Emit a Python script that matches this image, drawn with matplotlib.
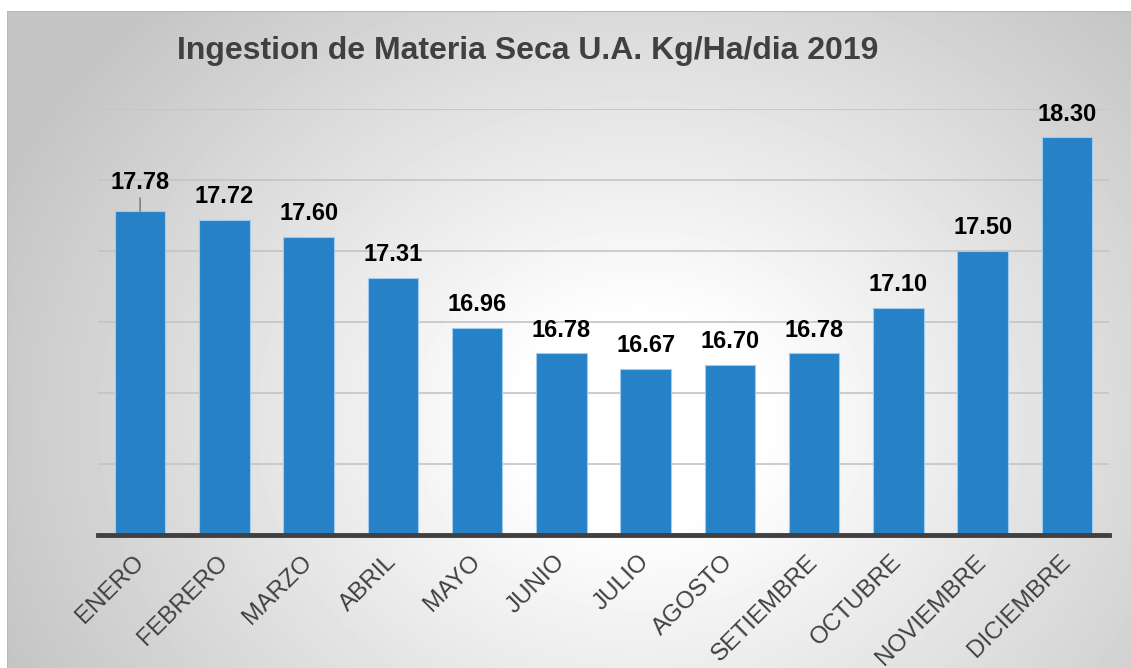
import numpy as np
import matplotlib.pyplot as plt

meses = ['ENERO', 'FEBRERO', 'MARZO', 'ABRIL', 'MAYO', 'JUNIO', 'JULIO',
         'AGOSTO', 'SETIEMBRE', 'OCTUBRE', 'NOVIEMBRE', 'DICIEMBRE']
valores = [17.78, 17.72, 17.60, 17.31, 16.96, 16.78, 16.67, 16.70, 16.78, 17.10, 17.50, 18.30]
titulo = 'Ingestion de Materia Seca U.A. Kg/Ha/dia 2019'

plt.rcParams['font.family'] = ['Liberation Sans', 'DejaVu Sans']

W, H = 1131, 668
fig = plt.figure(figsize=(W / 100, H / 100), dpi=100)
fig.patch.set_facecolor('white')

# fondo con degradado radial
bg = fig.add_axes([7 / W, 0, 1 - 7 / W, (H - 11) / H])
bg.set_axis_off()
yy, xx = np.mgrid[11:H, 7:W]
d = np.sqrt(((xx - 640) / 1.2) ** 2 + (yy - 420) ** 2)
t = np.clip((d - 100) / 480, 0, 1)
g = 1 - 0.23 * t
bg.imshow(g, cmap='gray', vmin=0, vmax=1, aspect='auto', extent=[0, 1, 0, 1])
bg.plot([0, 0, 1], [0, 1, 1], color='#b8b8b8', lw=1.5, transform=bg.transAxes)

ax = fig.add_axes([98 / W, (H - 535) / H, 1011 / W, 426 / H])
ax.patch.set_alpha(0)
x = np.arange(len(meses))
ax.bar(x, valores, width=0.6, color='#2681C7', edgecolor='#9fcbee', linewidth=0.8, zorder=3)
ax.set_ylim(15.5, 18.5)
ax.set_xlim(-0.5, 11.5)
ax.set_yticks(np.arange(16.0, 18.6, 0.5))
ax.yaxis.grid(True, color='#c4c4c4', lw=1.2, zorder=0)
ax.tick_params(axis='y', length=0, labelleft=False)
for s in ['left', 'right', 'top']:
    ax.spines[s].set_visible(False)
ax.spines['bottom'].set_color('#404040')
ax.spines['bottom'].set_linewidth(3.5)
ax.spines['bottom'].set_zorder(4)

ax.set_xticks(x)
ax.set_xticklabels(meses, rotation=45, ha='right', va='center', rotation_mode='anchor',
                   fontsize=17.5, color='#404040')
ax.tick_params(axis='x', length=0, pad=17)

for i, v in enumerate(valores):
    if i == 0:
        ax.annotate(f'{v:.2f}', xy=(i, v), xytext=(0, 16), textcoords='offset points',
                    ha='center', va='baseline', fontsize=17, fontweight='bold',
                    color='black', zorder=5)
        ax.annotate('', xy=(i, v), xytext=(0, 9.5), textcoords='offset points',
                    arrowprops=dict(arrowstyle='-', color='#808080', lw=1.2,
                                    shrinkA=0, shrinkB=0))
    else:
        ax.annotate(f'{v:.2f}', xy=(i, v), xytext=(0, 12), textcoords='offset points',
                    ha='center', va='baseline', fontsize=17, fontweight='bold',
                    color='black', zorder=5)

fig.text(528 / W, (H - 59) / H, titulo, ha='center', va='baseline',
         fontsize=23, fontweight='bold', color='#404040')

fig.savefig('out.png', dpi=100)
